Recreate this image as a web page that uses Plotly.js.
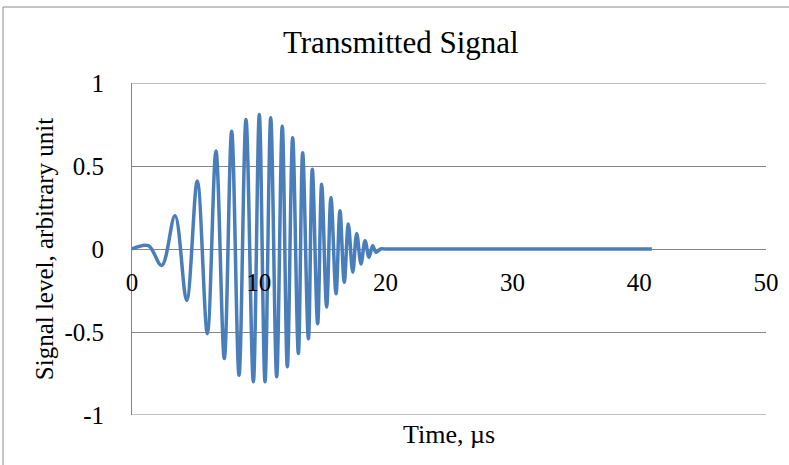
<!DOCTYPE html>
<html>
<head>
<meta charset="utf-8">
<script src="https://cdn.plot.ly/plotly-3.0.1.min.js"></script>
<style>
  html, body { margin: 0; padding: 0; background: #fff; }
  #chart { width: 789px; height: 465px; }
</style>
</head>
<body>
<div id="chart"></div>
<script>
// Time (µs) of the start point, each read peak/trough, and points along the flat tail
const timeUs = [0, 1.29, 2.34, 3.39, 4.31, 5.15, 5.94, 6.62, 7.28, 7.86, 8.44, 8.99, 9.57,
  10.04, 10.49, 10.94, 11.41, 11.85, 12.25, 12.67, 13.12, 13.46, 13.91, 14.22, 14.64,
  14.96, 15.35, 15.69, 16.09, 16.40, 16.74, 17.06, 17.41, 17.72, 18.06, 18.38, 18.69,
  18.98, 19.24, 19.6, 20, 21, 41];
// Signal level (arbitrary unit) at those times
const signalLevel = [0, 0.02, -0.10, 0.20, -0.31, 0.41, -0.51, 0.59, -0.66, 0.71, -0.76, 0.78, -0.80,
  0.81, -0.80, 0.79, -0.77, 0.74, -0.71, 0.67, -0.63, 0.58, -0.54, 0.48, -0.45,
  0.39, -0.35, 0.31, -0.27, 0.23, -0.20, 0.15, -0.14, 0.094, -0.09, 0.05, -0.05,
  0.02, -0.02, 0, 0, 0, 0];

const xTicks = [0, 10, 20, 30, 40, 50];
const yTicks = [-1, -0.5, 0, 0.5, 1];
const yTickText = ['-1', '-0.5', '0', '0.5', '1'];

const serif = 'Liberation Serif, Times New Roman, serif';
const gridColor = '#868686';

const trace = {
  x: timeUs,
  y: signalLevel,
  type: 'scatter',
  mode: 'lines',
  line: { color: '#4A7EBB', width: 3.5, shape: 'spline', smoothing: 1 },
  hoverinfo: 'x+y'
};

const layout = {
  width: 789,
  height: 465,
  paper_bgcolor: '#ffffff',
  plot_bgcolor: '#ffffff',
  showlegend: false,
  margin: { l: 132, r: 23, t: 83, b: 50, pad: 0 },
  title: {
    text: 'Transmitted Signal',
    font: { family: serif, size: 31, color: '#000' },
    xref: 'container', x: 0.508, xanchor: 'center',
    yref: 'container', y: 0.91, yanchor: 'middle'
  },
  xaxis: {
    range: [0, 50],
    tickvals: xTicks,
    ticktext: xTicks.map(String),
    anchor: 'free',
    position: 0.5,
    showgrid: false,
    zeroline: false,
    showline: false,
    ticks: '',
    ticklabelstandoff: 16,
    tickfont: { family: serif, size: 25, color: '#000' },
    title: {
      text: 'Time, µs',
      font: { family: serif, size: 26, color: '#000' },
      standoff: 129
    },
    automargin: false
  },
  yaxis: {
    range: [-1, 1],
    tickvals: yTicks,
    ticktext: yTickText,
    showgrid: true,
    gridcolor: gridColor,
    gridwidth: 1,
    zeroline: false,
    showline: true,
    linecolor: gridColor,
    linewidth: 1,
    ticks: '',
    ticklabelstandoff: 22,
    tickfont: { family: serif, size: 25, color: '#000' },
    title: {
      text: 'Signal level, arbitrary unit',
      font: { family: serif, size: 25, color: '#000' },
      standoff: 3
    },
    automargin: false
  },
  shapes: [
    // gridlines at the ends of the value axis
    { type: 'line', xref: 'paper', yref: 'y', x0: 0, x1: 1, y0: 1, y1: 1,
      line: { color: gridColor, width: 1 }, layer: 'below' },
    { type: 'line', xref: 'paper', yref: 'y', x0: 0, x1: 1, y0: -1, y1: -1,
      line: { color: gridColor, width: 1 }, layer: 'below' },
    // chart frame (top and left edges)
    { type: 'line', xref: 'paper', yref: 'paper', x0: -129 / 634, x1: 23 / 634 + 1, y0: 408 / 332, y1: 408 / 332,
      line: { color: '#8c8c8c', width: 1 } },
    { type: 'line', xref: 'paper', yref: 'paper', x0: -129 / 634, x1: -129 / 634, y0: 408 / 332, y1: -50 / 332,
      line: { color: '#8c8c8c', width: 1 } }
  ]
};

Plotly.newPlot('chart', [trace], layout, { displayModeBar: false, responsive: false });
</script>
</body>
</html>
